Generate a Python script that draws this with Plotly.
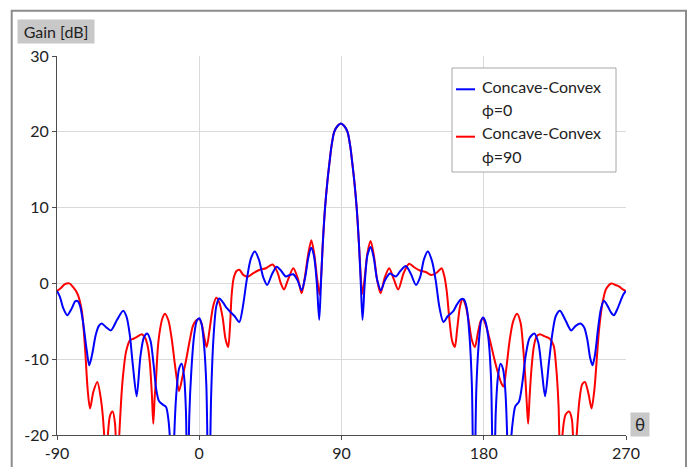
import plotly.graph_objects as go

# ---------------- data ----------------
blue_theta = [-90, -88.1, -86, -83.5, -80.7, -78.6, -77.2, -75.5, -73.4, -71.2, -69.6, -67.8, -65.5, -63.5,
              -61.7, -58.8, -55.9, -52, -48.1, -46, -44, -42, -39.6, -37.2, -35, -32.9, -30.8, -29, -27.2,
              -25.5, -23, -21, -19.5, -18.3, -17, -15.8, -14.3, -12.7, -11.1, -9.6, -8.4, -7.4, -6.3, -5,
              -3.2, -1.5, 0, 1.5, 3, 4.5, 6.1, 7.5, 9, 10.8, 12.6, 15, 17.2, 19.4, 22.3, 25.3, 27.5, 30,
              32.7, 35.2, 37.8, 40.5, 43, 46, 49, 52, 54.8, 57.2, 59.5, 62.2, 64.8, 67, 69, 70.8, 72.6,
              74.4, 75.9, 77, 78.1, 79.6, 81.1, 82.6, 83.6, 85.4, 87.6, 89.6, 91.6, 93.8, 95.6, 96.6,
              98.1, 99.6, 101.1, 102.2, 103.3, 104.7, 106.4, 108.4, 110.3, 112.6, 114.9, 117.5, 120.6,
              122.5, 124.4, 127.5, 130.7, 134, 137.1, 139.7, 142.2, 144.6, 147.2, 149.6, 152, 154.5,
              157.3, 160.6, 163, 165.5, 167.4, 169.2, 171, 172.5, 173.8, 175.3, 176.8, 178.3, 179.6, 181,
              182.8, 184.6, 186.2, 187.6, 189, 190.6, 192.2, 193.6, 194.8, 195.9, 197.2, 198.5, 200,
              202.3, 204.5, 206.5, 209, 212, 214.5, 216.5, 218.8, 221.2, 223.5, 225.6, 228.2, 231.8,
              235.3, 238.2, 241.2, 243.5, 245.6, 247.3, 248.8, 250.4, 252.3, 254.2, 256, 258.4, 260.4,
              262.3, 264.5, 266.6, 268.5, 270]
blue_gain = [-1.0, -1.8, -3.3, -4.2, -3.3, -2.4, -2.3, -2.9, -5.3, -8.8, -10.8, -9.4, -6.8, -5.6,
             -5.3, -5.8, -6.2, -4.8, -3.6, -4.4, -6.7, -10.8, -14.9, -9.6, -7.1, -6.6, -7.6, -10.5, -14,
             -15.5, -16, -16.3, -18, -21.5, -32, -20, -14, -11.2, -10.6, -12.3, -17, -32, -17.5, -11.5,
             -6.8, -4.9, -4.6, -5.4, -8, -13.5, -32, -15, -7.2, -3, -2.0, -2.5, -3.2, -3.7, -4.3, -5.1, -3.2, 0.4,
             3.3, 4.2, 3.1, 0.8, -0.2, 1.2, 2.2, 1.6, 0.9, 1.1, 1.2, 0.4, -0.9, 0.8, 3.4, 4.7, 3.6,
             0, -4.8, 0, 5, 10, 13.5, 16.3, 18, 20, 20.8, 21.1, 20.8, 20, 18, 16.3,
             13.5, 10, 5, 0, -4.8, 0, 3.7, 4.8, 3.5, 0.4, -0.9, 0.4, 1.3,
             1.1, 0.9, 1.7, 2.3, 1.2, -0.2, 0.8, 3.2, 4.2, 3.0, 0.4, -3.2, -5.1,
             -4.3, -3.7, -2.8, -2.1, -2.1, -3.2, -7, -13.5, -32, -14, -8, -5, -4.5, -5,
             -7, -12.5, -32, -17, -12.3, -10.6, -11.3, -14, -20, -32, -21, -18, -16.2,
             -15.6, -13, -9.6, -7.2, -6.6, -7.8, -11, -14.9, -10.5, -6.5, -4.3, -3.6, -4.9,
             -6.2, -5.6, -5.3, -5.8, -7.5, -9.8, -10.8, -9.4, -6, -3.3, -2.3, -3.0, -3.8,
             -4.2, -3.4, -2.3, -1.4, -1.0]

red_theta = [-90, -87.5, -85, -82.2, -79.8, -77.2, -74.4, -72.3, -70.6, -69.1, -67, -64.5, -62.2, -60.3,
             -59, -57.8, -56.4, -54.8, -53.3, -52, -50.6, -49.3, -48.1, -46.3, -43.8, -41.7, -39, -36.4,
             -34.2, -32.6, -31.2, -30, -29.1, -28.2, -27.4, -26.2, -24.9, -23.3, -21.7, -19.5, -17.5,
             -15.2, -12.8, -10.7, -8.5, -6, -4, -2, 0, 1.5, 3, 4.7, 6.6, 8.8, 10.8, 12.8, 14.8, 16.6,
             18.3, 19.5, 20.5, 21.8, 23.5, 25.3, 28, 31, 34.5, 38.4, 42.2, 46.4, 49.6, 51.6, 53.6, 56.2,
             59.5, 62.3, 64.8, 66.8, 68.9, 70.9, 72.8, 74.6, 76.2, 77.3, 78.1, 79.6, 81.1, 82.6, 83.6,
             85.4, 87.6, 89.6, 91.6, 93.8, 95.6, 96.6, 98.1, 99.6, 101.1, 102, 103.1, 104.6, 106.4,
             108.4, 110.4, 112.6, 114.7, 117.4, 120.2, 123, 125.9, 129.4, 132.8, 136.2, 139.6, 143.3,
             147, 150.2, 153.3, 155, 156.5, 158.3, 160, 161.7, 163.2, 165, 166.6, 168.5, 170.5, 172.5,
             174.4, 176.3, 178, 179.3, 181, 183.9, 186.5, 189, 191.2, 192.5, 194.4, 196.4, 198.6, 201.1,
             203.3, 204.9, 206.4, 207.4, 208.1, 209, 210.3, 211.8, 213.4, 215.5, 218.6, 221.8, 224.2,
             225.8, 227.3, 228.6, 230, 231.8, 234, 235.8, 237.3, 238.8, 240.5, 242.3, 244, 246.2,
             248.2, 250, 251.5, 253, 255.2, 257.5, 260.8, 263.2, 265.5, 268, 270]
red_gain = [-1.0, -0.6, -0.1, 0.0, -0.5, -1.3, -3.5, -8.4, -14, -16.5, -14.3, -13, -15.3, -19.5,
            -28, -20, -17.4, -16.9, -18.5, -26, -20, -15, -11.9, -9, -7.5, -7.3, -7.0, -6.7,
            -7.2, -8.3, -10.6, -14.5, -18.5, -15, -12.8, -8.5, -6.2, -4.6, -4.0, -4.9, -7.2,
            -11, -14.2, -12.4, -10.3, -7.5, -5.6, -4.9, -4.7, -5.3, -6.9, -8.4, -6, -3, -1.9, -2.6, -4.5, -7.3,
            -8.4, -5.5, -1.5, 0.7, 1.6, 1.8, 1.1, 0.9, 1.4, 1.8, 2.0, 2.5, 1.4, 0.0, -0.8, 0.5,
            2.0, 0.7, -1.3, 0.8, 3.8, 5.7, 3.8, 0.6, -1.5, 1.6, 5, 10, 13.5, 16.3, 18,
            20, 20.8, 21.1, 20.8, 20, 18, 16.3, 13.5, 10, 5, 1.6, -1.4, 0.6, 4.0,
            5.6, 3.8, 0.4, -1.3, 0.8, 2.0, 0.6, -0.8, 1.4, 2.6, 2.1, 1.7, 1.5,
            1.1, 1.4, 2.0, 1.0, -0.9, -4.8, -7.6, -8.4, -6, -3, -2.1, -2.9, -5, -7.5,
            -8.4, -6.5, -5, -4.6, -5.3, -7.5, -9.8, -11.8, -13.2, -13.6, -11, -7.5, -5, -4.0,
            -5.2, -8.4, -12.8, -16.5, -18.5, -15, -11, -8.2, -7.0, -6.7, -7.0, -7.3, -8.2,
            -11, -16, -26, -19.5, -17.3, -16.9, -18, -26, -20, -15.5, -13.3, -13, -14.5,
            -16.5, -14, -10, -6, -2.5, -0.7, 0.0, -0.2, -0.4, -0.8, -1.0]

x_ticks = [-90, 0, 90, 180, 270]
y_ticks = [-20, -10, 0, 10, 20, 30]
series_names = ["Concave-Convex", "Concave-Convex"]
series_sub = ["ϕ=0", "ϕ=90"]
x_title = "θ"
y_title = "Gain [dB]"

# ---------------- layout helpers ----------------
W, H = 692, 467
L, R, T, B = 57, 66, 56, 32
PW, PH = W - L - R, H - T - B
FONT = "Lato"


def xp(px):
    return (px - L) / PW


def yp(py):
    return (H - B - py) / PH


fig = go.Figure()
fig.add_trace(go.Scatter(x=red_theta, y=red_gain, mode="lines", showlegend=False,
                         line=dict(color="#ff0000", width=2, shape="spline", smoothing=0.8)))
fig.add_trace(go.Scatter(x=blue_theta, y=blue_gain, mode="lines", showlegend=False,
                         line=dict(color="#0000ff", width=2, shape="spline", smoothing=0.8)))

axis_common = dict(showgrid=True, gridcolor="#d9d9d9", gridwidth=1, zeroline=False, automargin=False,
                   showline=True, linecolor="#4d4d4d", linewidth=1, ticks="outside",
                   ticklen=4, tickcolor="#4d4d4d", tickfont=dict(family=FONT, size=16, color="#222222"))

fig.update_layout(
    width=W, height=H, margin=dict(l=L, r=R, t=T, b=B, autoexpand=False),
    paper_bgcolor="white", plot_bgcolor="white",
    xaxis=dict(range=[-90, 270], tickvals=x_ticks, ticktext=[str(v) for v in x_ticks], **axis_common),
    yaxis=dict(range=[-20, 30], tickvals=y_ticks, ticktext=[str(v) for v in y_ticks], **axis_common),
    showlegend=False,
)

shapes = [
    # outer frame
    dict(type="rect", xref="paper", yref="paper", x0=xp(11.7), x1=xp(686), y0=yp(480), y1=yp(10.7),
         line=dict(color="#8c8c8c", width=2), layer="below"),
    # legend box
    dict(type="rect", xref="paper", yref="paper", x0=xp(452), x1=xp(616), y0=yp(172), y1=yp(68),
         fillcolor="white", line=dict(color="#a6a6a6", width=1), layer="above"),
    dict(type="line", xref="paper", yref="paper", x0=xp(456), x1=xp(475), y0=yp(89.3), y1=yp(89.3),
         line=dict(color="#0000ff", width=2), layer="above"),
    dict(type="line", xref="paper", yref="paper", x0=xp(456), x1=xp(475), y0=yp(136.7), y1=yp(136.7),
         line=dict(color="#ff0000", width=2), layer="above"),
]
fig.update_layout(shapes=shapes)

ann = [
    dict(text=y_title, xref="paper", yref="paper", x=xp(17), y=yp(19), xanchor="left", yanchor="top",
         showarrow=False, bgcolor="#c8c8c8", width=76, height=23, borderpad=0,
         font=dict(family=FONT, size=16, color="#222222")),
    dict(text=x_title, xref="paper", yref="paper", x=xp(630), y=yp(412), xanchor="left", yanchor="top",
         showarrow=False, bgcolor="#c8c8c8", width=18, height=23, borderpad=0,
         font=dict(family=FONT, size=17, color="#222222")),
]
ys = [86, 109.3, 132.7, 156.7]
texts = [series_names[0], series_sub[0], series_names[1], series_sub[1]]
for t, y in zip(texts, ys):
    ann.append(dict(text=t, xref="paper", yref="paper", x=xp(480), y=yp(y), xanchor="left",
                    yanchor="middle", showarrow=False,
                    font=dict(family=FONT, size=16, color="#222222")))
fig.update_layout(annotations=ann)

fig.write_html("out.html", config={"displayModeBar": False},
               post_script="document.body.style.margin='0';document.body.style.overflow='hidden';")
